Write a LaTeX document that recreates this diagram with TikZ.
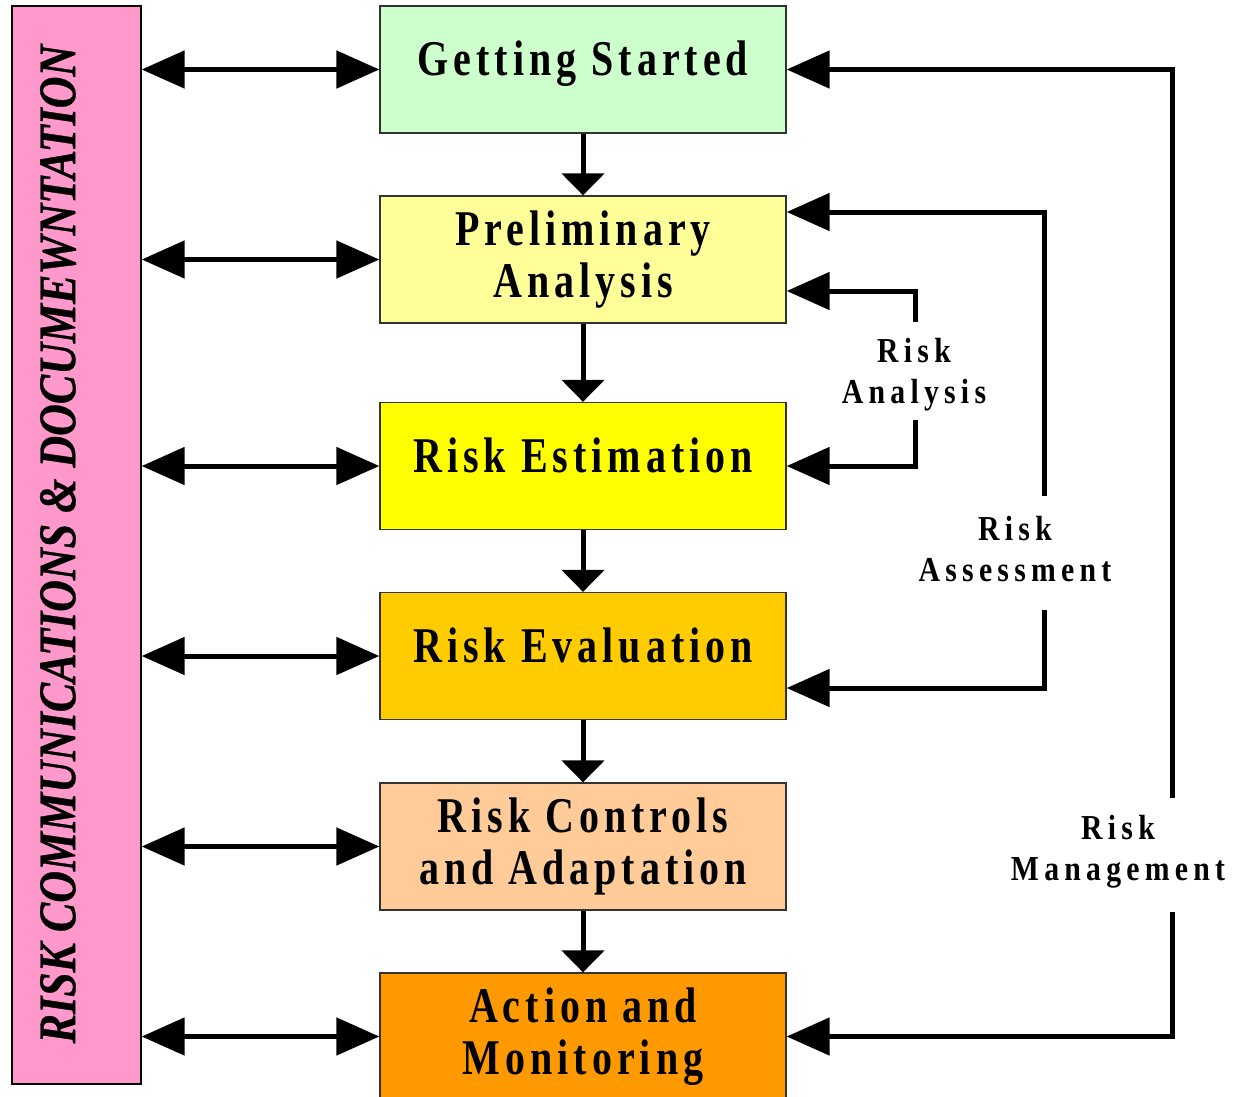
\documentclass[tikz,border=0pt]{standalone}
\usepackage{fontspec}
\setmainfont{Liberation Serif}
\newfontfamily\stagefont[LetterSpace=10,FakeStretch=0.8]{Liberation Serif}
\newfontfamily\notefont[LetterSpace=15,FakeStretch=0.85]{Liberation Serif}
\newfontfamily\barfont[FakeStretch=0.83,FakeBold=0.6]{Liberation Serif Bold Italic}
\usepackage{tikz}
\usetikzlibrary{arrows.meta}

\definecolor{barpink}{HTML}{FF99CC}
\definecolor{startgreen}{HTML}{CCFFCC}
\definecolor{prelimyellow}{HTML}{FFFF99}
\definecolor{estyellow}{HTML}{FFFF00}
\definecolor{evalgold}{HTML}{FFCC00}
\definecolor{ctrlpeach}{HTML}{FFCC99}
\definecolor{actorange}{HTML}{FF9900}

\begin{document}
\begin{tikzpicture}[x=1pt,y=-1pt,
  stage/.style={draw=black!80,line width=1.3pt,minimum width=406pt,minimum height=127pt,
    inner sep=0pt,align=center,font=\stagefont\bfseries\fontsize{50}{52}\selectfont},
  oneline/.style={text depth=22pt},
  note/.style={align=center,inner sep=0pt,font=\notefont\bfseries\fontsize{35}{41}\selectfont},
  flow/.style={line width=5pt,-{Triangle[length=22pt,width=42pt]}},
  talk/.style={line width=5pt,{Triangle[length=43pt,width=37pt]}-{Triangle[length=43pt,width=37pt]}},
  back/.style={line width=5pt,-{Triangle[length=43pt,width=37pt]}}]
          \useasboundingbox (0,0) rectangle (1244,1096);
          % left bar
          \node[draw,line width=1.3pt,fill=barpink,minimum width=129pt,minimum height=1078pt,inner sep=0pt] (bar) at (76.5,545) {};
          \node[rotate=90,inner sep=0pt,font=\barfont\fontsize{53}{60}\selectfont] (bartext) at (58,544) {RISK COMMUNICATIONS \& DOCUMEWNTATION};
          % stages
          \node[stage,oneline,fill=startgreen] (gs) at (583,69.5) {Getting Started};
          \node[stage,fill=prelimyellow] (pa) at (583,259.5) {Preliminary\\Analysis};
          \node[stage,oneline,fill=estyellow] (re) at (583,466) {Risk Estimation};
          \node[stage,oneline,fill=evalgold] (ev) at (583,656) {Risk Evaluation};
          \node[stage,fill=ctrlpeach] (rc) at (583,846.5) {Risk Controls\\and Adaptation};
          \node[stage,fill=actorange] (am) at (583,1036.5) {Action and\\Monitoring};
          \draw[flow] (gs) -- (pa);
          \draw[flow] (pa) -- (re);
          \draw[flow] (re) -- (ev);
          \draw[flow] (ev) -- (rc);
          \draw[flow] (rc) -- (am);
          \foreach \s in {gs,pa,re,ev,rc,am}
            \draw[talk] (bar.east |- \s) -- (\s);
          % loops on the right
          \node[note] (anl) at (914,375) {Risk\\Analysis};
          \node[note] (asm) at (1015,549) {Risk\\Assessment};
          \node[note] (mgt) at (1118,852) {Risk\\Management};
          \coordinate (anltop) at (915,322);
          \coordinate (anlbot) at (915,420);
          \coordinate (asmtop) at (1044,496);
          \coordinate (asmbot) at (1044,610);
          \coordinate (mgttop) at (1172,798);
          \coordinate (mgtbot) at (1172,912);
          \draw[back] (anltop) |- (pa.east |- 0,291);
          \draw[back] (anlbot) |- (re.east);
          \draw[back] (asmtop) |- (pa.east |- 0,212);
          \draw[back] (asmbot) |- (ev.east |- 0,688);
          \draw[back] (mgttop) |- (gs.east);
          \draw[back] (mgtbot) |- (am.east);
\end{tikzpicture}
\end{document}
